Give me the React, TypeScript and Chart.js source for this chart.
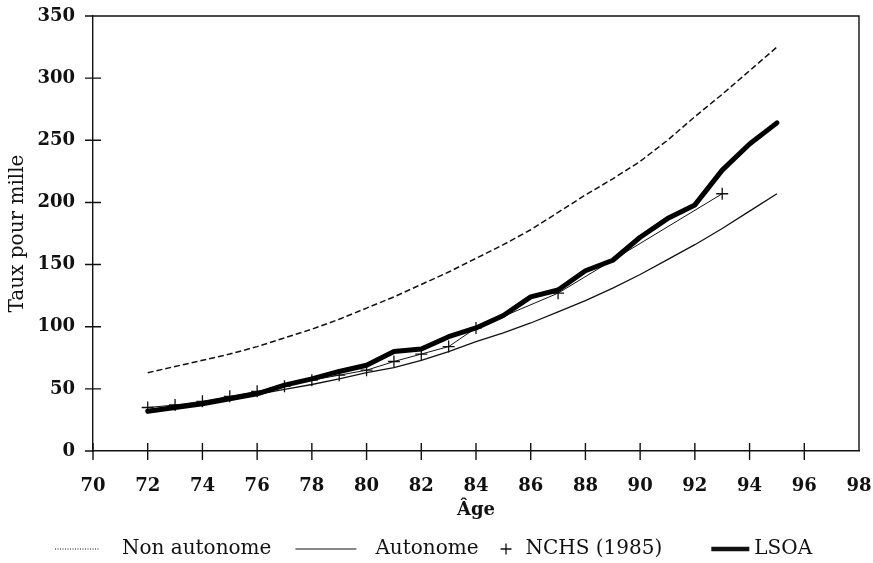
import React, { useEffect, useRef } from "react";
import { Chart, registerables } from "chart.js";

Chart.register(...registerables);

// Ages (years) for the model curves and the LSOA series
const ages = [72, 73, 74, 75, 76, 77, 78, 79, 80, 81, 82, 83, 84, 85, 86, 87, 88, 89, 90, 91, 92, 93, 94, 95];
// Taux pour mille
const nonAutonome = [63, 68, 73, 78, 84, 91, 98, 106, 115, 124, 134, 144, 155, 166, 178, 192, 206, 219, 233, 250, 269, 287, 306, 325];
const autonome = [33, 35.5, 38.5, 42, 45.5, 49.5, 53.5, 58, 63, 67, 73, 80, 88, 95, 103, 112, 121, 131, 142, 154, 166, 179, 193, 207];
const lsoa = [32, 35, 38, 42, 46, 53, 58, 64, 69, 80, 82, 92, 99, 109, 124, 129.5, 145, 153.5, 172, 187, 198, 226, 247, 264];
// NCHS (1985)
const nchsAges = [72, 73, 74, 75, 76, 77, 78, 79, 80, 81, 82, 83, 84, 87, 93];
const nchsValues = [35, 37, 40, 44, 48, 52, 57, 61, 65, 72, 78, 84, 99, 127, 207];

const seriesLabels = ["Non autonome", "Autonome", "NCHS (1985)", "LSOA"];
const xTitle = "Âge";
const yTitle = "Taux pour mille";

const SERIF = "'DejaVu Serif', 'Liberation Serif', serif";

const framePlugin = {
  id: "frameTicks",
  afterDraw(chart: any) {
    const { ctx, chartArea: a, scales } = chart;
    const xs = scales.x;
    const ys = scales.y;
    ctx.save();
    ctx.strokeStyle = "#111";
    ctx.lineWidth = 1.4;
    ctx.beginPath();
    ctx.moveTo(a.left, a.top);
    ctx.lineTo(a.right, a.top);
    ctx.lineTo(a.right, a.bottom);
    xs.ticks.forEach((t: any) => {
      const px = xs.getPixelForValue(t.value);
      if (px < a.right - 1) {
        ctx.moveTo(px, a.bottom - 8);
        ctx.lineTo(px, a.bottom + 9);
      }
    });
    ys.ticks.forEach((t: any) => {
      const py = ys.getPixelForValue(t.value);
      ctx.moveTo(a.left - 8, py);
      ctx.lineTo(a.left + (py > a.top + 1 && py < a.bottom - 1 ? 8 : 0), py);
    });
    ctx.stroke();
    ctx.restore();
  },
};

const legendPlugin = {
  id: "bottomLegend",
  afterDraw(chart: any) {
    const { ctx, chartArea: a } = chart;
    const ds = chart.data.datasets;
    const y = chart.height - 14;
    const items = [
      { i: 0, kind: "line", w: 45, gap: 22, after: 24 },
      { i: 1, kind: "line", w: 61, gap: 19, after: 22 },
      { i: 2, kind: "cross", w: 11, gap: 14, after: 49 },
      { i: 3, kind: "line", w: 38, gap: 5, after: 0 },
    ];
    ctx.save();
    ctx.font = `20px ${SERIF}`;
    ctx.textBaseline = "middle";
    ctx.textAlign = "left";
    ctx.fillStyle = "#111";
    ctx.strokeStyle = "#111";
    let x = a.left - 38;
    items.forEach((it) => {
      const d = ds[it.i];
      ctx.beginPath();
      if (it.kind === "line") {
        ctx.lineWidth = it.i === 3 ? 4.5 : it.i === 0 ? 1 : 1.2;
        ctx.setLineDash(it.i === 0 ? [1, 1.5] : []);
        ctx.moveTo(x, y);
        ctx.lineTo(x + it.w, y);
      } else {
        ctx.lineWidth = 1.3;
        ctx.setLineDash([]);
        ctx.moveTo(x, y);
        ctx.lineTo(x + it.w, y);
        ctx.moveTo(x + it.w / 2, y - it.w / 2);
        ctx.lineTo(x + it.w / 2, y + it.w / 2);
      }
      ctx.stroke();
      ctx.setLineDash([]);
      x += it.w + it.gap;
      ctx.fillText(d.label, x, y);
      x += ctx.measureText(d.label).width + it.after;
    });
    ctx.restore();
  },
};

export default function App() {
  const ref = useRef<HTMLCanvasElement | null>(null);

  useEffect(() => {
    if (!ref.current) return;
    const toXY = (xs: number[], vs: number[]) => xs.map((x, i) => ({ x, y: vs[i] }));
    const chart = new Chart(ref.current, {
      type: "line",
      data: {
        datasets: [
          {
            label: seriesLabels[0],
            data: toXY(ages, nonAutonome),
            borderColor: "#111",
            borderWidth: 1.5,
            borderDash: [6, 3],
            pointRadius: 0,
            fill: false,
            order: 3,
          },
          {
            label: seriesLabels[1],
            data: toXY(ages, autonome),
            borderColor: "#111",
            borderWidth: 1.3,
            pointRadius: 0,
            fill: false,
            order: 2,
          },
          {
            label: seriesLabels[2],
            data: toXY(nchsAges, nchsValues),
            borderColor: "#111",
            borderWidth: 1,
            pointStyle: "cross",
            pointRadius: 6,
            pointBorderWidth: 1.3,
            pointBorderColor: "#111",
            fill: false,
            order: 1,
          },
          {
            label: seriesLabels[3],
            data: toXY(ages, lsoa),
            borderColor: "#000",
            borderWidth: 5,
            borderJoinStyle: "round",
            borderCapStyle: "round",
            pointRadius: 0,
            fill: false,
            order: 0,
          },
        ],
      },
      options: {
        animation: false,
        responsive: false,
        layout: { padding: { top: 16, right: 14, bottom: 42, left: 6 } },
        plugins: {
          legend: { display: false },
          tooltip: { enabled: false },
        },
        scales: {
          x: {
            type: "linear",
            min: 70,
            max: 98,
            ticks: {
              stepSize: 2,
              color: "#111",
              padding: 25,
              font: { family: SERIF, size: 18, weight: "bold" },
            },
            grid: { display: false, drawTicks: false },
            border: { display: true, color: "#111", width: 1.4 },
            title: {
              display: true,
              text: xTitle,
              color: "#111",
              padding: { top: 0, bottom: 0 },
              font: { family: SERIF, size: 18, weight: "bold" },
            },
            afterFit: (s: any) => {
              s.height = 70;
              s.paddingLeft = 0;
              s.paddingRight = 0;
            },
          },
          y: {
            min: 0,
            max: 350,
            ticks: {
              stepSize: 50,
              color: "#111",
              padding: 18,
              font: { family: SERIF, size: 18, weight: "bold" },
            },
            grid: { display: false, drawTicks: false },
            border: { display: true, color: "#111", width: 1.4 },
            title: {
              display: true,
              text: yTitle,
              color: "#111",
              padding: 0,
              font: { family: SERIF, size: 20 },
            },
            afterFit: (s: any) => {
              s.width = 87;
              s.paddingTop = 0;
              s.paddingBottom = 0;
            },
          },
        },
      },
      plugins: [framePlugin, legendPlugin],
    });
    return () => chart.destroy();
  }, []);

  return (
    <canvas
      ref={ref}
      width={873}
      height={563}
      style={{ display: "block", position: "absolute", left: 0, top: 0, background: "#fff" }}
    />
  );
}
